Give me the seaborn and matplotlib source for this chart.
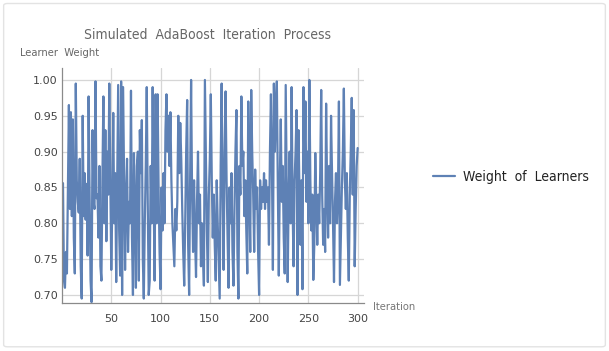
import numpy as np
import pandas as pd
import matplotlib
matplotlib.use("Agg")
import matplotlib.pyplot as plt
from matplotlib.patches import FancyBboxPatch
from matplotlib.ticker import MultipleLocator
import seaborn as sns

# learner weight per iteration
weights = [
    0.856, 0.72, 0.71, 0.76, 0.73, 0.85, 0.965, 0.82, 0.955, 0.81,
    0.945, 0.78, 0.73, 0.995, 0.86, 0.83, 0.815, 0.89, 0.74, 0.695,
    0.95, 0.81, 0.87, 0.805, 0.855, 0.755, 0.977, 0.84, 0.72, 0.69,
    0.93, 0.83, 0.82, 0.998, 0.835, 0.84, 0.78, 0.88, 0.74, 0.72,
    0.86, 0.977, 0.80, 0.93, 0.775, 0.90, 0.84, 0.995, 0.87, 0.735,
    0.82, 0.954, 0.80, 0.87, 0.718, 0.85, 0.993, 0.79, 0.727, 0.998,
    0.70, 0.99, 0.86, 0.735, 0.84, 0.89, 0.76, 0.83, 0.80, 0.985,
    0.78, 0.70, 0.898, 0.82, 0.71, 0.88, 0.90, 0.72, 0.93, 0.87,
    0.944, 0.75, 0.695, 0.80, 0.88, 0.99, 0.83, 0.70, 0.72, 0.88,
    0.80, 0.99, 0.84, 0.72, 0.98, 0.80, 0.98, 0.85, 0.76, 0.708,
    0.85, 0.79, 0.87, 0.80, 0.93, 0.98, 0.90, 0.95, 0.88, 0.955,
    0.86, 0.80, 0.77, 0.74, 0.82, 0.79, 0.83, 0.95, 0.87, 0.94,
    0.89, 0.82, 0.76, 0.713, 0.80, 0.90, 0.972, 0.77, 0.70, 0.86,
    1.00, 0.84, 0.76, 0.86, 0.78, 0.725, 0.83, 0.90, 0.80, 0.84,
    0.74, 0.80, 0.76, 0.713, 1.00, 0.90, 0.79, 0.718, 0.84, 0.89,
    0.98, 0.86, 0.78, 0.84, 0.77, 0.72, 0.86, 0.80, 0.75, 0.695,
    0.88, 0.995, 0.84, 0.735, 0.90, 0.984, 0.86, 0.78, 0.71, 0.85,
    0.80, 0.87, 0.76, 0.713, 0.82, 0.90, 0.958, 0.76, 0.695, 0.88,
    0.84, 0.977, 0.88, 0.90, 0.81, 0.86, 0.79, 0.73, 0.97, 0.85,
    0.76, 0.986, 0.90, 0.84, 0.76, 0.875, 0.82, 0.85, 0.76, 0.70,
    0.86, 0.82, 0.85, 0.83, 0.87, 0.82, 0.86, 0.83, 0.85, 0.77,
    0.90, 0.98, 0.88, 0.735, 0.995, 0.90, 0.96, 0.998, 0.85, 0.727,
    0.86, 0.945, 0.83, 0.88, 0.78, 0.73, 0.993, 0.86, 0.718, 0.84,
    0.90, 0.80, 0.99, 0.82, 0.74, 0.86, 0.90, 0.958, 0.70, 0.93,
    0.84, 0.77, 0.86, 0.708, 0.99, 0.87, 0.97, 0.83, 0.90, 0.80,
    1.00, 0.86, 0.79, 0.84, 0.721, 0.77, 0.898, 0.83, 0.77, 0.84,
    0.80, 0.87, 0.986, 0.84, 0.77, 0.82, 0.76, 0.967, 0.85, 0.78,
    0.88, 0.80, 0.95, 0.87, 0.80, 0.718, 0.83, 0.87, 0.80, 0.84,
    0.97, 0.714, 0.78, 0.85, 0.90, 0.988, 0.86, 0.82, 0.87, 0.78,
    0.72, 0.84, 0.90, 0.975, 0.84, 0.958, 0.74, 0.82, 0.88, 0.905,
]
iterations = list(range(1, len(weights) + 1))

y_ticks = [0.70, 0.75, 0.80, 0.85, 0.90, 0.95, 1.00]
x_ticks = [50, 100, 150, 200, 250, 300]

df = pd.DataFrame({"Iteration": iterations, "Weight": weights})

sns.set_style("white")
plt.rcParams['font.family'] = ['DejaVu Sans']

fig = plt.figure(figsize=(6.09, 3.51), dpi=100)
fig.patch.set_facecolor("white")
fig.patches.append(FancyBboxPatch((0.006, 0.012), 0.988, 0.978, boxstyle="round,pad=0,rounding_size=0.006",
                                  transform=fig.transFigure, facecolor="none", edgecolor="#e3e3e3", lw=1))

ax = fig.add_axes([0.1018, 0.1368, 0.496, 0.6695])
sns.lineplot(data=df, x="Iteration", y="Weight", ax=ax, color="#5E81B5", lw=1.6,
             label="Weight  of  Learners", legend=False)

ax.set_xlim(0, 306.5)
ax.set_ylim(0.6888, 1.0167)
ax.set_xticks(x_ticks)
ax.set_yticks(y_ticks)
ax.set_yticklabels([f"{t:.2f}" for t in y_ticks])
ax.xaxis.set_minor_locator(MultipleLocator(10))
ax.yaxis.set_minor_locator(MultipleLocator(0.01))
ax.grid(True, which="major", color="#d6d6d6", lw=0.9)
ax.set_axisbelow(True)

for s in ["top", "right"]:
    ax.spines[s].set_visible(False)
for s in ["left", "bottom"]:
    ax.spines[s].set_color("#8a8a8a")
    ax.spines[s].set_linewidth(0.9)

ax.tick_params(which="major", direction="in", length=4, width=0.8, color="#8a8a8a",
               labelsize=8, labelcolor="#444444", pad=3)
ax.tick_params(axis="x", which="major", pad=8)
ax.tick_params(which="minor", direction="in", length=2, width=0.6, color="#8a8a8a")
ax.set_xlabel("")
ax.set_ylabel("")

fig.text(0.34, 0.90, "Simulated  AdaBoost  Iteration  Process", ha="center", va="center",
         fontsize=10, fontstretch="condensed", color="#666666")
fig.text(0.033, 0.848, "Learner  Weight", ha="left", va="center", fontsize=8,
         fontstretch="condensed", color="#666666")
fig.text(0.612, 0.125, "Iteration", ha="left", va="center", fontsize=8,
         fontstretch="condensed", color="#777777")

handles, labels = ax.get_legend_handles_labels()
leg = fig.legend(handles, labels, loc="center left", bbox_to_anchor=(0.69, 0.497), frameon=False,
                 fontsize=10, handlelength=1.6, handletextpad=0.6, labelcolor="#222222")
for t in leg.get_texts():
    t.set_fontstretch("condensed")

fig.savefig("out.png", dpi=100)
